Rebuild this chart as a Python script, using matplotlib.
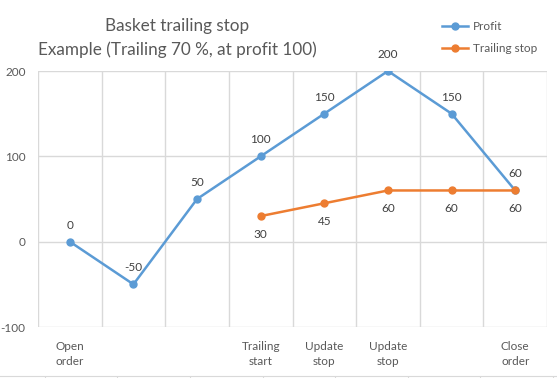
import matplotlib
matplotlib.use("Agg")
import matplotlib.pyplot as plt
import numpy as np

plt.rcParams['font.family'] = ['Lato', 'DejaVu Sans']

categories = ["Open\norder", "", "", "Trailing\nstart", "Update\nstop", "Update\nstop", "", "Close\norder"]
profit = [0, -50, 50, 100, 150, 200, 150, 60]
trailing = [np.nan, np.nan, np.nan, 30, 45, 60, 60, 60]
yticks = [-100, 0, 100, 200]

blue = '#5B9BD5'
orange = '#ED7D31'
grid = '#D9D9D9'
txt = '#595959'

fig = plt.figure(figsize=(5.57, 3.78), dpi=100)
ax = fig.add_axes([38/557, 51/378, 509/557, 256/378])

x = np.arange(len(categories))
ax.plot(x, profit, color=blue, lw=1.8, marker='o', ms=5, label='Profit', zorder=3)
ax.plot(x, trailing, color=orange, lw=1.8, marker='o', ms=5, label='Trailing stop', zorder=3)

for xi, v in zip(x, profit):
    ax.annotate(str(v), (xi, v), xytext=(0, 8), textcoords='offset points',
                ha='center', va='bottom', fontsize=8.5, color='#404040')
for xi, v in zip(x, trailing):
    if not np.isnan(v):
        ax.annotate(str(int(v)), (xi, v), xytext=(0, -9), textcoords='offset points',
                    ha='center', va='top', fontsize=8.5, color='#404040')

ax.set_xlim(-0.5, len(categories) - 0.5)
ax.set_ylim(-100, 200)
ax.set_yticks(yticks)
ax.set_yticklabels([str(t) for t in yticks])
ax.set_xticks(x)
ax.set_xticklabels(categories, linespacing=1.5)
ax.set_xticks(np.arange(-0.5, len(categories)), minor=True)
ax.grid(True, which='minor', axis='x', color=grid, lw=1)
ax.grid(True, which='major', axis='y', color=grid, lw=1)
ax.tick_params(axis='both', which='both', length=0, labelsize=8.5, colors=txt)
ax.tick_params(axis='x', pad=10)
ax.tick_params(axis='y', pad=9)
for s in ax.spines.values():
    s.set_visible(False)

fig.text(177/557, 1 - 38/378, "Basket trailing stop\nExample (Trailing 70 %, at profit 100)",
         ha='center', va='center', fontsize=12.3, color=txt, linespacing=1.5)

ax.legend(loc='upper left', bbox_to_anchor=(436/557, 1 - 15/378), bbox_transform=fig.transFigure,
          frameon=False, fontsize=8.5, labelcolor=txt, handlelength=2.2, handletextpad=0.4,
          labelspacing=0.95, borderpad=0)

# axis of the next chart, cut off at the bottom edge
ax2 = fig.add_axes([0, 0, 1, 2/378])
ax2.set_xlim(-0.62, 7.06)
ax2.set_xticks(range(8))
ax2.set_yticks([])
ax2.patch.set_visible(False)
for k in ['left', 'right', 'bottom']:
    ax2.spines[k].set_visible(False)
ax2.spines['top'].set_color(grid)
ax2.xaxis.set_ticks_position('top')
ax2.tick_params(axis='x', direction='in', length=3, color=grid, labeltop=False, labelbottom=False)

fig.savefig('out.png', dpi=100)
